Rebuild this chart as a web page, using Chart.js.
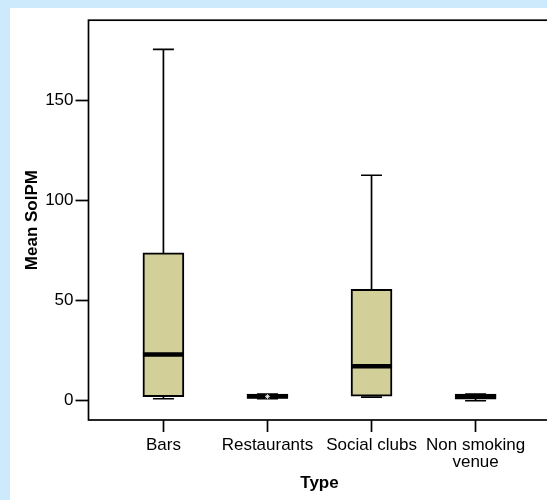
<!DOCTYPE html>
<html>
<head>
<meta charset="utf-8">
<title>Mean SolPM by Type</title>
<script src="https://cdn.jsdelivr.net/npm/chart.js@4.4.1/dist/chart.umd.min.js"></script>
<style>
  html, body { margin: 0; padding: 0; background: #cdeafd; overflow: hidden; }
  #panel { position: absolute; left: 10px; top: 8px; width: 550px; height: 492px; background: #fff; }
</style>
</head>
<body>
<div id="panel"><canvas id="chart"></canvas></div>
<script>
// box plot summary per venue type
const categories = ['Bars', 'Restaurants', 'Social clubs', ['Non smoking', 'venue']];
const minValues    = [1.0, 1.0, 1.8, 0.0];
const q1Values     = [2.0, 1.2, 2.3, 0.85];
const medianValues = [23.1, 2.2, 17.2, 2.2];
const q3Values     = [73.8, 3.3, 55.6, 3.3];
const maxValues    = [175.4, 3.3, 112.6, 3.3];
const outlierCategory = [1];
const outlierValues   = [2.1];
const yTicks = [0, 50, 100, 150];

const FONT = "'Liberation Sans', Arial, sans-serif";
const BOX_FILL = '#d3cf99';

// whiskers, caps, medians and the frame round the plot
const boxPlotPlugin = {
    id: 'boxPlot',
    afterDatasetDraw(chart, args) {
        if (args.index !== 0) return;
        const ctx = chart.ctx;
        const xs = chart.scales.x, ys = chart.scales.y;
        const bars = chart.getDatasetMeta(0).data;
        const capHalf = 10.5;
        ctx.save();
        ctx.strokeStyle = '#000';
        ctx.lineWidth = 1.7;
        categories.forEach((_, i) => {
            const x = xs.getPixelForValue(i);
            const yMin = ys.getPixelForValue(minValues[i]);
            const yQ1 = ys.getPixelForValue(q1Values[i]);
            const yQ3 = ys.getPixelForValue(q3Values[i]);
            const yMax = ys.getPixelForValue(maxValues[i]);
            ctx.beginPath();
            ctx.moveTo(x, yQ3); ctx.lineTo(x, yMax);
            ctx.moveTo(x - capHalf, yMax); ctx.lineTo(x + capHalf, yMax);
            ctx.moveTo(x, yQ1); ctx.lineTo(x, yMin);
            ctx.moveTo(x - capHalf, yMin); ctx.lineTo(x + capHalf, yMin);
            ctx.stroke();
        });
        ctx.lineWidth = 4.5;
        ctx.lineCap = 'butt';
        categories.forEach((_, i) => {
            const bar = bars[i];
            const y = ys.getPixelForValue(medianValues[i]);
            ctx.beginPath();
            ctx.moveTo(bar.x - bar.width / 2, y);
            ctx.lineTo(bar.x + bar.width / 2, y);
            ctx.stroke();
        });
        ctx.restore();
    },
    afterDraw(chart) {
        const { ctx, chartArea: a } = chart;
        ctx.save();
        ctx.strokeStyle = '#000';
        ctx.lineWidth = 1.7;
        ctx.strokeRect(a.left, a.top, a.right - a.left, a.bottom - a.top);
        ctx.restore();
    }
};

new Chart(document.getElementById('chart').getContext('2d'), {
    type: 'bar',
    data: {
        datasets: [{
            label: 'Interquartile range',
            data: categories.map((_, i) => ({ x: i, y: [q1Values[i], q3Values[i]] })),
            backgroundColor: BOX_FILL,
            borderColor: '#000',
            borderWidth: 2,
            borderSkipped: false,
            barThickness: 41,
            order: 1
        }, {
            type: 'scatter',
            label: 'Outliers',
            data: outlierCategory.map((c, i) => ({ x: c, y: outlierValues[i] })),
            pointStyle: 'star',
            radius: 2.5,
            borderColor: '#fff',
            borderWidth: 0.8,
            order: 0
        }]
    },
    options: {
        responsive: true,
        maintainAspectRatio: false,
        animation: false,
        layout: { padding: { top: 12, right: 9.5, left: 0, bottom: 0 } },
        plugins: {
            legend: { display: false },
            tooltip: { enabled: false }
        },
        scales: {
            x: {
                type: 'linear',
                min: -0.72,
                max: 3.72,
                offset: false,
                afterBuildTicks: scale => { scale.ticks = categories.map((_, i) => ({ value: i })); },
                afterFit: scale => { scale.height = 80; },
                border: { display: false },
                grid: {
                    offset: false,
                    drawOnChartArea: false,
                    drawTicks: true,
                    tickLength: 12,
                    tickColor: '#000',
                    tickWidth: 1.7
                },
                ticks: {
                    color: '#000',
                    padding: 4,
                    maxRotation: 0,
                    autoSkip: false,
                    font: { family: FONT, size: 17, lineHeight: 1.05 },
                    callback: v => categories[v]
                },
                title: {
                    display: true,
                    text: 'Type',
                    color: '#000',
                    padding: { top: 0, bottom: 6 },
                    font: { family: FONT, size: 17, weight: 'bold' }
                }
            },
            y: {
                min: -9.6,
                max: 190,
                afterBuildTicks: scale => { scale.ticks = yTicks.map(v => ({ value: v })); },
                afterFit: scale => { scale.width = 78.5; },
                border: { display: false },
                grid: {
                    drawOnChartArea: false,
                    drawTicks: true,
                    tickLength: 13,
                    tickColor: '#000',
                    tickWidth: 1.7
                },
                ticks: {
                    color: '#000',
                    padding: 2,
                    font: { family: FONT, size: 17 }
                },
                title: {
                    display: true,
                    text: 'Mean SolPM',
                    color: '#000',
                    padding: { top: 12, bottom: 0 },
                    font: { family: FONT, size: 17, weight: 'bold' }
                }
            }
        }
    },
    plugins: [boxPlotPlugin]
});
</script>
</body>
</html>
